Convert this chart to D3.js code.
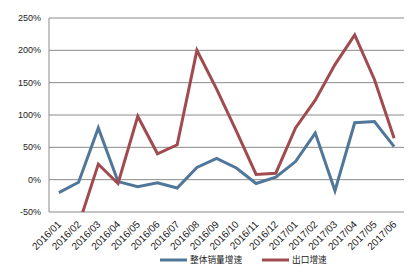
<!DOCTYPE html>
<html>
<head>
<meta charset="utf-8">
<script src="https://cdn.jsdelivr.net/npm/d3@7"></script>
<style>
  body { margin: 0; background: #fff; }
  svg text { font-family: "Liberation Sans", Arial, sans-serif; fill: #222; }
</style>
</head>
<body>
<div id="chart"></div>
<script>
const months = ['2016/01','2016/02','2016/03','2016/04','2016/05','2016/06','2016/07','2016/08','2016/09',
  '2016/10','2016/11','2016/12','2017/01','2017/02','2017/03','2017/04','2017/05','2017/06'];
// 整体销量增速 (%)
const salesGrowth = [-20, -4, 80, -3, -11, -5, -13, 19, 33, 18, -6, 4, 28, 72, -17, 88, 90, 51];
// 出口增速 (%), 2016/01 not drawn
const exportGrowth = [null, -70, 24, -6, 98, 40, 54, 200, 140, 75, 8, 10, 80, 123, 178, 224, 155, 64];
const yTicks = [-50, 0, 50, 100, 150, 200, 250];
const seriesNames = ['整体销量增速', '出口增速'];
const colors = ['#50779a', '#a04b4f'];

const width = 417, height = 279;
const margin = {top: 18, right: 13, bottom: 67, left: 49};

const svg = d3.select('#chart').append('svg')
  .attr('width', width)
  .attr('height', height);

const x = d3.scaleBand()
  .domain(months)
  .range([margin.left, width - margin.right]);

const y = d3.scaleLinear()
  .domain([-50, 250])
  .range([height - margin.bottom, margin.top]);

// grid lines
svg.append('g')
  .selectAll('line')
  .data(yTicks)
  .join('line')
  .attr('x1', margin.left).attr('x2', width - margin.right)
  .attr('y1', d => y(d)).attr('y2', d => y(d))
  .attr('stroke', '#8a8a8a')
  .attr('stroke-width', 1);

// left axis line
svg.append('line')
  .attr('x1', margin.left).attr('x2', margin.left)
  .attr('y1', y(250)).attr('y2', y(-50))
  .attr('stroke', '#8a8a8a');

// y labels
svg.append('g')
  .selectAll('text')
  .data(yTicks)
  .join('text')
  .attr('x', margin.left - 8)
  .attr('y', d => y(d))
  .attr('dy', '0.35em')
  .attr('text-anchor', 'end')
  .attr('font-size', 9)
  .text(d => d + '%');

// x labels
svg.append('g')
  .selectAll('text')
  .data(months)
  .join('text')
  .attr('text-anchor', 'end')
  .attr('font-size', 10)
  .attr('transform', d => `translate(${x(d) + x.bandwidth() / 2 + 3},${y(-50) + 13}) rotate(-45)`)
  .text(d => d);

svg.append('clipPath')
  .attr('id', 'plot-clip')
  .append('rect')
  .attr('x', margin.left).attr('y', 0)
  .attr('width', width - margin.left)
  .attr('height', y(-50));

const line = d3.line()
  .defined(d => d[1] != null)
  .x(d => x(d[0]) + x.bandwidth() / 2)
  .y(d => y(d[1]));

[salesGrowth, exportGrowth].forEach((vals, i) => {
  svg.append('path')
    .datum(months.map((m, j) => [m, vals[j]]))
    .attr('clip-path', 'url(#plot-clip)')
    .attr('fill', 'none')
    .attr('stroke', colors[i])
    .attr('stroke-width', 3)
    .attr('stroke-linejoin', 'miter')
    .attr('d', line);
});

// legend
const legendX = [160, 262];
const legend = svg.append('g');
seriesNames.forEach((name, i) => {
  legend.append('line')
    .attr('x1', legendX[i]).attr('x2', legendX[i] + 27)
    .attr('y1', 260).attr('y2', 260)
    .attr('stroke', colors[i])
    .attr('stroke-width', 3);
  legend.append('text')
    .attr('x', legendX[i] + 30)
    .attr('y', 260)
    .attr('dy', '0.35em')
    .attr('font-size', 8.7)
    .style('font-family', '"Noto Sans CJK SC", sans-serif')
    .text(name);
});
</script>
</body>
</html>
